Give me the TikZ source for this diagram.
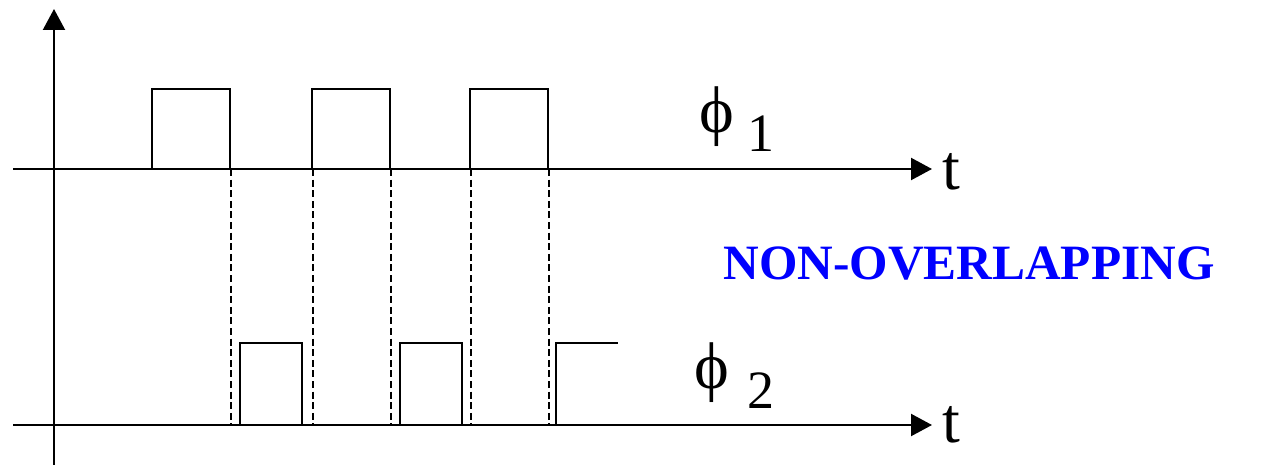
\documentclass[tikz,border=0pt]{standalone}
\usepackage{fontspec}
\setmainfont{Liberation Serif}
\usetikzlibrary{arrows.meta}
\definecolor{nonover}{HTML}{0000FF}

\begin{document}
\begin{tikzpicture}[x=0.5pt, y=-0.5pt,
    axis/.style={line width=1.1pt, -{Triangle[length=10.5pt, width=11pt]}},
    wave/.style={line width=1.1pt},
    guide/.style={line width=0.9pt, dash pattern=on 3.5pt off 1.8pt},
    lbl/.style={inner sep=0pt, font=\fontsize{32}{32}\selectfont}]
    \useasboundingbox (0,0) rectangle (1264,465);
    % axes
    \coordinate (origin) at (54,465);
    \coordinate (ytop) at (54,9);
    \coordinate (a1) at (13,169);
    \coordinate (b1) at (932,169);
    \coordinate (a2) at (13,425);
    \coordinate (b2) at (932,425);
    \draw[axis] (origin) -- (ytop);
    \draw[axis] (a1) -- (b1);
    \draw[axis] (a2) -- (b2);
    \node[lbl, anchor=base west] (t1) at (942,190) {t};
    \node[lbl, anchor=base west] (t2) at (942,442) {t};
    % phi 1 pulses
    \foreach \s in {152,312,470}
        \draw[wave] (\s,169) |- (\s+78,89) -- (\s+78,169);
    % phi 2 pulses
    \foreach \s in {240,400}
        \draw[wave] (\s,425) |- (\s+62,343) -- (\s+62,425);
    \draw[wave] (556,425) |- (618,343);
    % dashed guides
    \foreach \x in {231,313,391,471,549}
        \draw[guide] (\x,169) -- (\x,425);
    % labels
    \node[lbl, font=\fontsize{33}{33}\selectfont] (phi1) at (717,117) {ϕ};
    \node[lbl, anchor=base west, font=\fontsize{27}{27}\selectfont] (sub1) at (747,152) {1};
    \node[lbl, font=\fontsize{33}{33}\selectfont] (phi2) at (712,373) {ϕ};
    \node[lbl, anchor=base west, font=\fontsize{27}{27}\selectfont] (sub2) at (747,408) {2};
    \node[lbl, anchor=base west, text=nonover, font=\fontsize{24.7}{24.7}\selectfont\bfseries] (note) at (723,279) {NON-OVERLAPPING};
\end{tikzpicture}
\end{document}
